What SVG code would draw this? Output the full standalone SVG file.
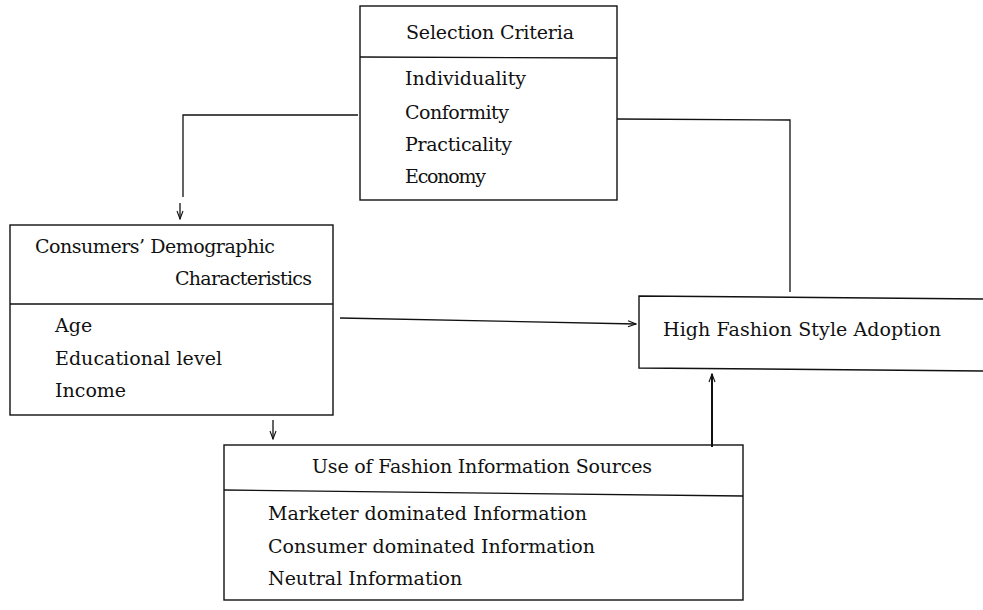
<svg xmlns="http://www.w3.org/2000/svg" width="983" height="610" viewBox="0 0 983 610">
<defs>
<marker id="arr" markerWidth="10" markerHeight="8" refX="9" refY="4" orient="auto" markerUnits="userSpaceOnUse">
<path d="M1,1 L9,4 L1,7" fill="none" stroke="#111" stroke-width="1.1"/>
</marker>
<style>
.box{fill:none;stroke:#111;stroke-width:1.4}
.ln{fill:none;stroke:#111;stroke-width:1.3}
text{font-family:"DejaVu Serif","Liberation Serif",serif;font-size:19px;fill:#111}
</style>
</defs>
<rect width="983" height="610" fill="#fff"/>
<g id="selection-criteria">
<rect class="box" x="360" y="6" width="257" height="194"/>
<line class="ln" x1="360" y1="57" x2="617" y2="58"/>
<text x="406" y="39" textLength="168" lengthAdjust="spacing">Selection Criteria</text>
<text x="405" y="85" textLength="121" lengthAdjust="spacing">Individuality</text>
<text x="405" y="119" textLength="104" lengthAdjust="spacing">Conformity</text>
<text x="405" y="151" textLength="107" lengthAdjust="spacing">Practicality</text>
<text x="405" y="183" textLength="81" lengthAdjust="spacing">Economy</text>
</g>
<g id="demographics">
<rect class="box" x="10" y="225" width="323" height="190"/>
<line class="ln" x1="10" y1="304" x2="333" y2="304"/>
<text x="35" y="253" textLength="240" lengthAdjust="spacing">Consumers’ Demographic</text>
<text x="175" y="285" textLength="137" lengthAdjust="spacing">Characteristics</text>
<text x="55" y="332">Age</text>
<text x="55" y="365" textLength="167" lengthAdjust="spacing">Educational level</text>
<text x="55" y="397">Income</text>
</g>
<g id="high-fashion">
<path class="box" d="M990,299 L639,296 L639,368 L990,371"/>
<text x="663" y="336" textLength="278" lengthAdjust="spacing">High Fashion Style Adoption</text>
</g>
<g id="info-sources">
<rect class="box" x="224" y="445" width="519" height="155"/>
<line class="ln" x1="224" y1="490" x2="743" y2="496"/>
<text x="312" y="473" textLength="340" lengthAdjust="spacing">Use of Fashion Information Sources</text>
<text x="268" y="520">Marketer dominated Information</text>
<text x="268" y="553">Consumer dominated Information</text>
<text x="268" y="585">Neutral Information</text>
</g>
<g id="connectors">
<path class="ln" d="M358,115 L183,115 L183,197"/>
<line class="ln" x1="180" y1="203" x2="180" y2="219" marker-end="url(#arr)"/>
<path class="ln" d="M617,119 L790,120 L790,292"/>
<line class="ln" x1="340" y1="318" x2="636" y2="324" marker-end="url(#arr)"/>
<line class="ln" x1="273" y1="420" x2="273" y2="439" marker-end="url(#arr)"/>
<line x1="712" y1="447" x2="712" y2="374" stroke="#111" stroke-width="2" marker-end="url(#arr)"/>
</g>
</svg>
